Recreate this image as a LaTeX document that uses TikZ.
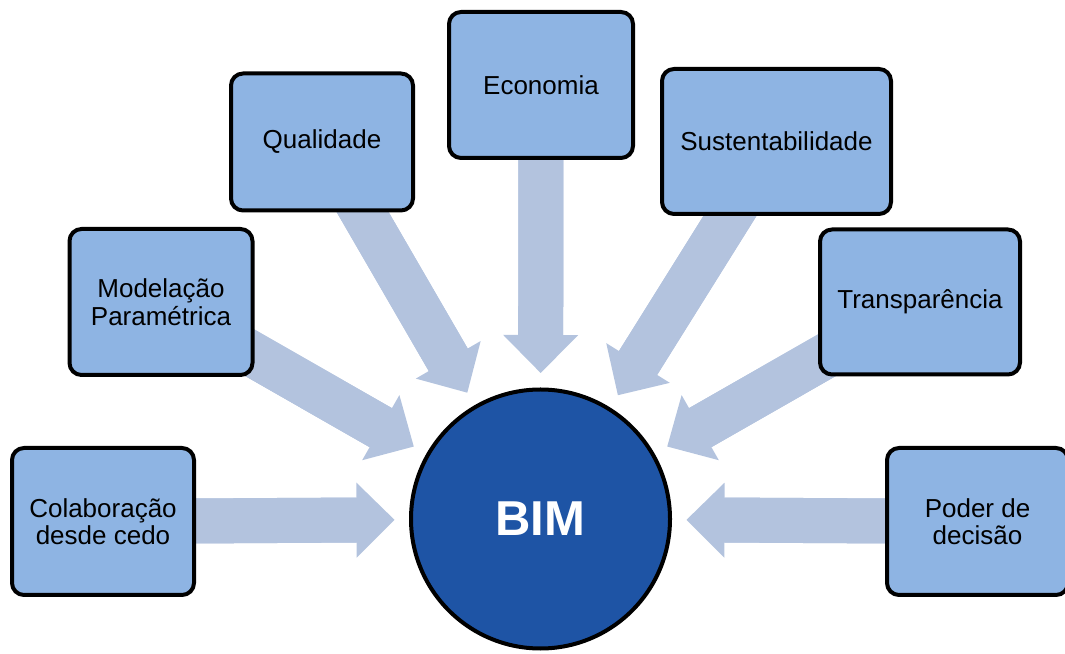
\documentclass[tikz,border=0pt]{standalone}
\usepackage{fontspec}
\setmainfont{Liberation Sans}
\usetikzlibrary{arrows.meta,backgrounds}
\definecolor{boxfill}{HTML}{8EB4E3}
\definecolor{arrowfill}{HTML}{B3C3DE}
\definecolor{bimfill}{HTML}{1E54A5}
\tikzset{
  factor/.style={draw, line width=4pt, rounded corners=12pt, fill=boxfill, align=center, inner sep=0pt, font=\fontsize{26}{27.5}\selectfont},
  bigarrow/.style={draw=arrowfill, line width=45pt, -{Triangle[length=38pt,width=75pt,line width=0pt]}, shorten >=14.5pt,
    postaction={draw=arrowfill, line width=45pt, -, shorten >=50pt}}
}

\begin{document}
\begin{tikzpicture}[x=1pt,y=1pt]
  \useasboundingbox (0,0) rectangle (1065,653);
  % Nodes
  \node[circle, draw, line width=4pt, fill=bimfill, minimum size=259pt, text=white, font=\fontsize{49}{50}\selectfont\bfseries](bim) at (540.5,134){BIM};
  \node[factor, minimum width=182pt, minimum height=147pt](colab) at (103,131.5){Colaboração\\desde cedo};
  \node[factor, minimum width=183pt, minimum height=146pt](model) at (161,351){Modelação\\Paramétrica};
  \node[factor, minimum width=182pt, minimum height=137pt](qual) at (322,511){Qualidade};
  \node[factor, minimum width=184pt, minimum height=146pt](econ) at (541,568){Economia};
  \node[factor, minimum width=229pt, minimum height=145pt](sust) at (776.5,511.5){Sustentabilidade};
  \node[factor, minimum width=200pt, minimum height=145pt](transp) at (920,351){Transparência};
  \node[factor, minimum width=181pt, minimum height=147pt](poder) at (977.5,131.5){Poder de\\decisão};
  % Arrows
  \begin{scope}[on background layer]
    \foreach \f in {colab,model,qual,econ,sust,transp,poder}
      \draw[bigarrow] (\f.center) -- (bim);
  \end{scope}
\end{tikzpicture}
\end{document}
